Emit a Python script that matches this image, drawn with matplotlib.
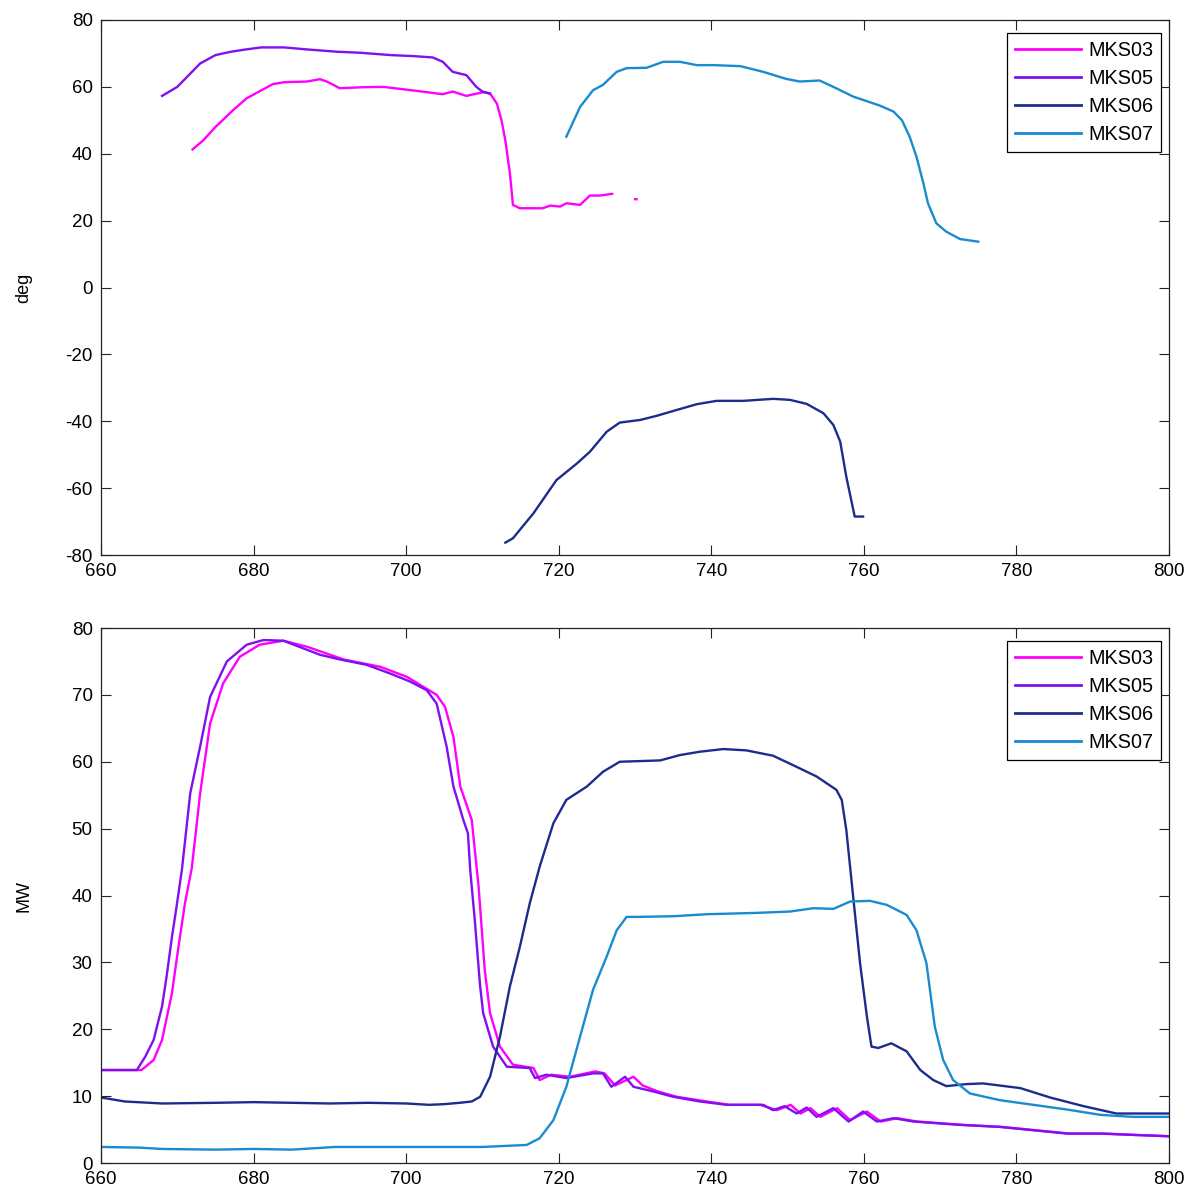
import numpy as np
import matplotlib
matplotlib.use("Agg")
import matplotlib.pyplot as plt

plt.rcParams['font.family'] = ['Liberation Sans', 'DejaVu Sans']
plt.rcParams['axes.unicode_minus'] = False

names = ['MKS03', 'MKS05', 'MKS06', 'MKS07']
colors = ['#FF00FF', '#7F10F0', '#1C2C8C', '#1A8BCF']

# top panel: angle (deg)
t03_x = [672, 673.4, 675, 677.3, 679.1, 682.5, 684, 687, 688.7, 689.6, 691.3, 694.4, 697, 701.4, 704.8,
         706.1, 707.9, 710.1, 711, 711.9, 712.5, 713, 713.6, 714, 714.9, 717.9, 718.9, 720.2, 721, 722.8,
         724.1, 725.4, 727, np.nan, 730, 730.2]
t03_y = [41.3, 44, 48, 53, 56.6, 60.8, 61.4, 61.6, 62.3, 61.6, 59.6, 59.9, 60, 58.8, 57.8,
         58.6, 57.3, 58.4, 58, 55, 50, 44, 34.2, 24.7, 23.7, 23.7, 24.5, 24.2, 25.2, 24.7,
         27.5, 27.5, 28, np.nan, 26.4, 26.4]
t05_x = [668, 670, 673, 675, 677, 679, 681, 684, 687, 691, 694, 698, 701, 703.5, 704.8, 706.1, 707.9,
         709.2, 710, 711]
t05_y = [57.3, 60, 67, 69.5, 70.5, 71.2, 71.8, 71.8, 71.2, 70.5, 70.2, 69.5, 69.2, 68.8, 67.5, 64.5, 63.5,
         60, 58.6, 58]
t06_x = [713, 714, 716.7, 719.7, 722.4, 724.1, 726.3, 728, 730.7, 732.8, 735.5, 738.1, 740.7, 744.2, 748.1,
         750.3, 752.5, 754.7, 756, 756.9, 757.7, 758.8, 759.9]
t06_y = [-76.3, -75, -67.5, -57.6, -52.6, -49.1, -43.1, -40.4, -39.6, -38.4, -36.6, -34.9, -33.9, -33.9, -33.3,
         -33.6, -34.8, -37.6, -41.1, -46.1, -56.6, -68.5, -68.5]
t07_x = [721, 722.8, 724.5, 725.8, 727.6, 728.9, 731.5, 733.7, 735.9, 738.1, 740.3, 743.8, 746.8, 749.8, 751.6,
         754.2, 756, 758.6, 762.1, 763.9, 765, 766, 766.9, 767.8, 768.4, 769.5, 770.8, 772.6, 775]
t07_y = [45.1, 54, 59, 60.6, 64.5, 65.6, 65.7, 67.5, 67.5, 66.5, 66.5, 66.2, 64.5, 62.4, 61.6,
         61.9, 60, 57.1, 54.4, 52.6, 50, 45.1, 39.1, 31.2, 25.2, 19.2, 16.7, 14.5, 13.7]

# bottom panel: power (MW)
b03_x = [660, 665.3, 666.9, 668, 669.3, 670.1, 671, 671.9, 673, 674.3, 676, 678.2, 680.8, 683.9, 687, 691.8,
         696.6, 700.1, 704, 705.1, 706.2, 707.1, 708.6, 709.5, 710.3, 711, 712.3, 714, 716.7, 717.5, 719,
         721.5, 724.8, 726, 727.4, 729.8, 731, 733, 735.5, 739.4, 742.4, 746.4, 748.6, 750.4, 751.7, 753,
         754.3, 756.5, 758.2, 760.4, 762.2, 764.4, 767, 773, 778, 782.5, 787, 791.5, 795.5, 800]
b03_y = [13.9, 13.9, 15.4, 18.4, 25.4, 31.9, 38.8, 44.1, 55.3, 65.7, 71.7, 75.7, 77.5, 78.1, 77.2, 75.3,
         74.2, 72.7, 70, 68.2, 63.7, 56.3, 51.3, 41.3, 28.9, 22.4, 17.4, 14.7, 14.2, 12.4, 13.2,
         12.9, 13.7, 13.4, 11.6, 12.9, 11.6, 10.7, 9.9, 9.2, 8.7, 8.7, 7.9, 8.7, 7.4, 8.2,
         6.9, 8.2, 6.4, 7.7, 6.2, 6.7, 6.2, 5.7, 5.4, 4.9, 4.4, 4.4, 4.2, 4.0]
b05_x = [660, 664.7, 665.8, 666.9, 668, 668.6, 669.3, 669.9, 670.6, 671.7, 673, 674.3, 676.5, 679.1, 681.3,
         683.9, 688.7, 691.3, 694.8, 697.9, 700.5, 702.7, 704, 705.3, 706.2, 707.5, 708.1, 708.4, 709, 709.7,
         710.1, 711.4, 713.2, 716.2, 716.9, 718.4, 721, 724.5, 725.8, 726.9, 728.7, 729.8, 732.4, 735,
         738.5, 742, 746.8, 748.1, 749.6, 751.2, 752.5, 753.8, 756, 758, 759.9, 761.7, 763.9, 766.5,
         772.6, 777.8, 782.2, 786.6, 791, 795.3, 800]
b05_y = [13.9, 13.9, 15.9, 18.4, 23.4, 27.9, 33.8, 38.3, 43.8, 55.3, 62.3, 69.7, 75, 77.5, 78.2,
         78.1, 76, 75.3, 74.5, 73.2, 72, 70.7, 68.7, 62.3, 56.3, 51.3, 49.3, 43.8, 36.3, 26.4,
         22.4, 17.4, 14.4, 14.2, 12.7, 13.2, 12.7, 13.4, 13.4, 11.4, 12.9, 11.4, 10.7, 9.9,
         9.2, 8.7, 8.7, 7.9, 8.5, 7.4, 8.3, 6.9, 8.2, 6.2, 7.7, 6.2, 6.7, 6.2,
         5.7, 5.4, 4.9, 4.4, 4.4, 4.2, 4.0]
b06_x = [660, 663.1, 668, 675, 680, 685, 690, 695, 700, 703, 705, 707, 708.6, 709.7, 711, 712.3, 713.6,
         714.9, 716.2, 717.5, 719.3, 721, 723.7, 725.8, 728, 733.3, 735.9, 738.5, 741.6, 744.6, 748.1,
         750.7, 753.8, 756.4, 757.1, 757.7, 758.6, 759.5, 760.4, 761, 761.9, 763.6, 765.6, 767.4, 769.1,
         770.8, 773.5, 775.6, 780.5, 784.4, 788.8, 793.1, 800]
b06_y = [9.8, 9.2, 8.9, 9.0, 9.1, 9.0, 8.9, 9.0, 8.9, 8.7, 8.8, 9.0, 9.2, 9.9, 12.9, 18.9, 26.4,
         32.3, 38.8, 44.3, 50.8, 54.3, 56.3, 58.5, 60, 60.2, 61, 61.5, 61.9, 61.7, 60.9,
         59.5, 57.8, 55.8, 54.3, 49.8, 39.8, 29.9, 21.9, 17.4, 17.2, 17.9, 16.7, 13.9, 12.4,
         11.5, 11.8, 11.9, 11.2, 9.8, 8.5, 7.4, 7.4]
b07_x = [660, 665, 668, 675, 680, 685, 690.7, 700, 710, 715.8, 717.5, 719.3, 721, 722.8, 724.5, 726.3,
         727.6, 728.9, 730.3, 735, 739.4, 745.9, 750.3, 753.4, 756, 758.2, 760.8, 763, 765.6, 766.9,
         768.2, 769.3, 770.4, 771.7, 773.9, 777.8, 782.2, 786.6, 791, 795.3, 800]
b07_y = [2.4, 2.3, 2.1, 2.0, 2.1, 2.0, 2.4, 2.4, 2.4, 2.7, 3.7, 6.4, 11.4, 18.9, 25.9, 30.9,
         34.8, 36.8, 36.8, 36.9, 37.2, 37.4, 37.6, 38.1, 38.0, 39.1, 39.2, 38.6, 37.1, 34.8,
         29.9, 20.4, 15.4, 12.4, 10.4, 9.4, 8.7, 8.0, 7.2, 6.9, 6.9]

W, H = 1187, 1189
fig = plt.figure(figsize=(W / 100, H / 100), dpi=100)
L = 101 / W
AW = (1169 - 101) / W
ax1 = fig.add_axes([L, 1 - 555 / H, AW, 535 / H])
ax2 = fig.add_axes([L, 1 - 1163 / H, AW, 535 / H])

top = [(t03_x, t03_y), (t05_x, t05_y), (t06_x, t06_y), (t07_x, t07_y)]
bot = [(b03_x, b03_y), (b05_x, b05_y), (b06_x, b06_y), (b07_x, b07_y)]

for ax, series, ylim, yl in [(ax1, top, (-80, 80), 'deg'), (ax2, bot, (0, 80), 'MW')]:
    for (xs, ys), c, n in zip(series, colors, names):
        ax.plot(xs, ys, color=c, lw=1.7, label=n)
    ax.set_xlim(660, 800)
    ax.set_ylim(*ylim)
    ax.set_xticks(np.arange(660, 801, 20))
    ax.set_yticks(np.arange(ylim[0], ylim[1] + 1, 20 if yl == 'deg' else 10))
    ax.tick_params(direction='in', length=7, width=0.8, top=True, right=True,
                   labelsize=13.5, pad=6, colors='#222222', labelcolor='black')
    for s in ax.spines.values():
        s.set_color('#222222')
        s.set_linewidth(0.9)
    ax.set_ylabel(yl, fontsize=13)
    ax.yaxis.set_label_coords(-0.064, 0.5)
    leg = ax.legend(loc='upper right', bbox_to_anchor=(0.9925, 0.9757), borderaxespad=0,
                    fancybox=False, framealpha=1, edgecolor='black', fontsize=14.3,
                    handlelength=3.3, handletextpad=0.35, labelspacing=0.45, borderpad=0.4)
    leg.get_frame().set_linewidth(0.9)
    for ln in leg.get_lines():
        ln.set_linewidth(2)

fig.savefig('out.png', dpi=100)
